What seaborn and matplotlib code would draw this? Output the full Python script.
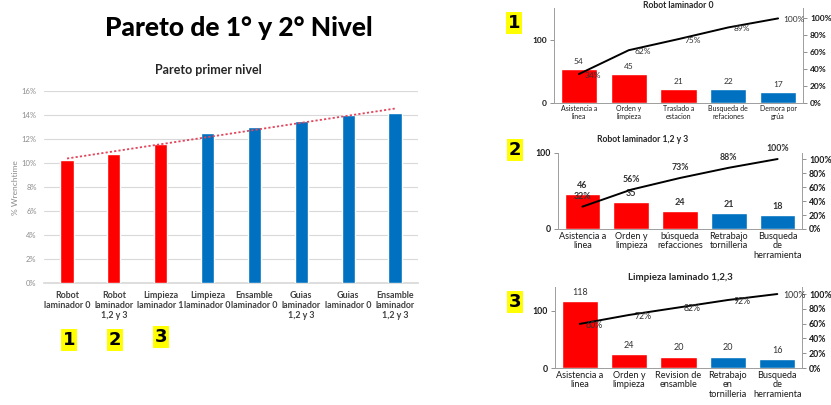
import numpy as np
import pandas as pd
import matplotlib
matplotlib.use("Agg")
import matplotlib.pyplot as plt
import seaborn as sns
from matplotlib.ticker import FuncFormatter

# ---------------- data ----------------
main_title = "Pareto de 1° y 2° Nivel"

l1_title = "Pareto primer nivel"
l1_cats = ["Robot\nlaminador 0", "Robot\nlaminador\n1,2 y 3", "Limpieza\nlaminador 1",
           "Limpieza\nlaminador 0", "Ensamble\nlaminador 0", "Guias\nlaminador\n1,2 y 3",
           "Guias\nlaminador 0", "Ensamble\nlaminador\n1,2 y 3"]
l1_vals = [10.2, 10.7, 11.6, 12.45, 12.95, 13.45, 13.95, 14.15]
l1_colors = ["#FF0000", "#FF0000", "#FF0000", "#0070C0", "#0070C0", "#0070C0", "#0070C0", "#0070C0"]
l1_ylabel = "% Wrenchtime"
l1_yticks = [0, 2, 4, 6, 8, 10, 12, 14, 16]
l1_marks = ["1", "2", "3"]

p1_title = "Robot laminador 0"
p1_cats = ["Asistencia a\nlinea", "Orden y\nlimpieza", "Traslado a\nestacion",
           "Busqueda de\nrefaciones", "Demora por\ngrúa"]
p1_counts = [54, 45, 21, 22, 17]
p1_colors = ["#FF0000", "#FF0000", "#FF0000", "#0070C0", "#0070C0"]

p2_title = "Robot laminador 1,2 y 3"
p2_cats = ["Asistencia a\nlinea", "Orden y\nlimpieza", "búsqueda\nrefacciones",
           "Retrabajo\ntornilleria", "Busqueda\nde\nherramienta"]
p2_counts = [46, 35, 24, 21, 18]
p2_colors = ["#FF0000", "#FF0000", "#FF0000", "#0070C0", "#0070C0"]

p3_title = "Limpieza laminado 1,2,3"
p3_cats = ["Asistencia a\nlinea", "Orden y\nlimpieza", "Revision de\nensamble",
           "Retrabajo\nen\ntornilleria", "Busqueda\nde\nherramienta"]
p3_counts = [118, 24, 20, 20, 16]
p3_colors = ["#FF0000", "#FF0000", "#FF0000", "#0070C0", "#0070C0"]

# ---------------- figure ----------------
sns.set_theme(style="white")
plt.rcParams["font.family"] = ["Lato", "DejaVu Sans"]

W, H = 831, 405
fig = plt.figure(figsize=(W / 100, H / 100), dpi=100)
fig.patch.set_facecolor("white")


def ax_px(x0, y0, x1, y1):
    return fig.add_axes([x0 / W, 1 - y1 / H, (x1 - x0) / W, (y1 - y0) / H])


def ftext(x, y, s, **kw):
    return fig.text(x / W, 1 - y / H, s, **kw)


# main title
ftext(239, 28, main_title, ha="center", va="center", fontsize=19, weight="black",
      family=["Lato", "DejaVu Sans"], color="black")

# ---------------- first level pareto ----------------
ax = ax_px(43.6, 90.7, 418.4, 282.7)
df = pd.DataFrame({"cat": l1_cats, "val": l1_vals})
sns.barplot(data=df, x="cat", y="val", hue="cat", palette=l1_colors, width=0.28,
            saturation=1, legend=False, ax=ax, zorder=3)
xs = np.arange(len(l1_vals))
coef = np.polyfit(xs, l1_vals, 1)
ax.plot(xs, np.polyval(coef, xs), ls=(0, (1.2, 1.2)), color="#E2455C", lw=1.3, zorder=4)
ax.set_xlim(-0.5, len(l1_vals) - 0.5)
ax.set_ylim(0, 16)
ax.set_yticks(l1_yticks)
ax.yaxis.set_major_formatter(FuncFormatter(lambda v, p: f"{v:.0f}%"))
ax.grid(axis="y", color="#D9D9D9", lw=0.8, zorder=0)
ax.set_axisbelow(True)
for s in ["top", "left", "right"]:
    ax.spines[s].set_visible(False)
ax.spines["bottom"].set_color("#D9D9D9")
ax.set_xlabel("")
ax.set_ylabel("")
ax.set_xticks(xs)
ax.set_xticklabels(l1_cats, fontsize=6.4, weight="bold", color="#404040", linespacing=1.15)
ax.tick_params(axis="x", length=0, pad=6)
ax.tick_params(axis="y", length=0, pad=5, labelsize=5.5, labelcolor="#8C8C8C")
ftext(208, 70, l1_title, ha="center", va="center", fontsize=9, weight="bold", color="#262626")
ftext(15, 188, l1_ylabel, ha="center", va="center", rotation=90, fontsize=6, color="#8C8C8C")

ybox = dict(boxstyle="square,pad=0.12", fc="#FFFF00", ec="none")
for (x, y), m in zip([(69, 340), (115, 340), (161, 337)], l1_marks):
    ftext(x, y, m, ha="center", va="center", fontsize=13, weight="bold",
          family="DejaVu Sans", color="black", bbox=ybox)


# ---------------- second level paretos ----------------
def pareto(box, title, title_xy, title_fs, cats, counts, colors, ylim_l, ylim_r,
           mode, cat_fs, pct_fs, pct_bold, tick_fs, val_fs, mark, mark_xy):
    a = ax_px(*box)
    d = pd.DataFrame({"cat": cats, "n": counts})
    sns.barplot(data=d, x="cat", y="n", hue="cat", palette=colors, width=0.73,
                saturation=1, legend=False, ax=a)
    a.set_ylim(0, ylim_l)
    a.set_yticks([0, 100])
    a2 = a.twinx()
    cum = np.cumsum(counts) / np.sum(counts)
    pos = np.arange(len(counts))
    sns.lineplot(x=pos, y=cum, color="black", lw=1.4, ax=a2)
    a2.set_ylim(0, ylim_r)
    a2.set_yticks(np.arange(0, 1.01, 0.2))
    a2.yaxis.set_major_formatter(FuncFormatter(lambda v, p: f"{v * 100:.0f}%"))
    a2.set_ylabel("")
    a.set_xlim(-0.5, len(counts) - 0.5)
    a.set_xticks(pos)
    a.set_xticklabels(cats, fontsize=cat_fs, color="#1a1a1a", linespacing=1.1)
    a.set_xlabel("")
    a.set_ylabel("")
    a.tick_params(axis="x", length=0, pad=2)
    a.tick_params(axis="y", length=3, width=0.6, color="#808080", pad=2,
                  labelsize=tick_fs, left=True)
    a2.tick_params(axis="y", length=3, width=0.6, color="#808080", pad=2,
                   labelsize=tick_fs, right=True)
    for t in a.get_yticklabels() + a2.get_yticklabels():
        t.set_weight("bold")
        t.set_color("#1a1a1a")
    for sp in [a, a2]:
        sp.spines["top"].set_visible(False)
        for s in ["left", "right", "bottom"]:
            sp.spines[s].set_color("#A0A0A0")
            sp.spines[s].set_linewidth(0.7)
    for i, n in enumerate(counts):
        a.annotate(f"{n}", (i, n), xytext=(0, 3), textcoords="offset points",
                   ha="center", va="bottom", fontsize=val_fs, color="#333333",
                   weight="bold" if pct_bold else "normal")
    for i, v in enumerate(cum):
        if mode == "right":
            a2.annotate(f"{v * 100:.0f}%", (i, v), xytext=(4, -1), textcoords="offset points",
                        ha="left", va="center", fontsize=pct_fs, color="#333333")
        else:
            a2.annotate(f"{v * 100:.0f}%", (i, v), xytext=(0, 7.5), textcoords="offset points",
                        ha="center", va="center", fontsize=pct_fs, color="#333333",
                        weight="bold")
    ftext(*title_xy, title, ha="center", va="center", fontsize=title_fs, weight="bold",
          color="#262626")
    ftext(*mark_xy, mark, ha="center", va="center", fontsize=13, weight="bold",
          family="DejaVu Sans", color="black", bbox=ybox)


pareto((554, 8.3, 803, 102.7), p1_title, (678, 5), 6.2, p1_cats, p1_counts, p1_colors,
       150, 1.12, "right", 5.0, 6.0, False, 6.0, 6.0, "1", (514, 23))
pareto((558, 153, 802, 229), p2_title, (643, 139), 6.2, p2_cats, p2_counts, p2_colors,
       100, 1.086, "above", 6.6, 6.3, True, 6.3, 6.5, "2", (515, 150))
pareto((555, 287, 802, 368), p3_title, (680, 277), 7.0, p3_cats, p3_counts, p3_colors,
       142, 1.095, "right", 6.6, 6.3, False, 6.3, 6.5, "3", (515, 302))

fig.savefig("out.png", dpi=100)
